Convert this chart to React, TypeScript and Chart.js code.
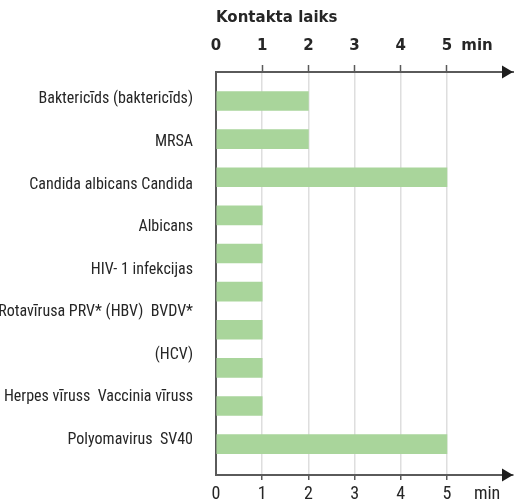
import React, { useEffect, useRef } from 'react';
import { Chart, registerables } from 'chart.js';

Chart.register(...registerables);

// ---- data ----
const barValues: number[] = [2, 2, 5, 1, 1, 1, 1, 1, 1, 5];
const categoryLabels: string[] = [
  'Baktericīds (baktericīds)',
  'MRSA',
  'Candida albicans Candida',
  'Albicans',
  'HIV- 1 infekcijas',
  'Rotavīrusa PRV* (HBV)  BVDV*',
  '(HCV)',
  'Herpes vīruss  Vaccinia vīruss',
  'Polyomavirus  SV40',
];
const xTickValues: number[] = [0, 1, 2, 3, 4, 5];
const unitLabel = 'min';
const axisTitle = 'Kontakta laiks';

// ---- layout constants (positions on the value scales) ----
const X_MAX = 6.43;
const Y_MIN = -0.76;
const Y_MAX = 9.81;
const LABEL_START = -0.04;
const LABEL_STEP = 1.116;
const TOP_UNIT_POS = 5.65;
const BOTTOM_UNIT_POS = 5.87;

const AXIS_COLOR = '#5a5a5a';
const GRID_COLOR = '#dedede';
const BAR_COLOR = '#a9d59b';
const TEXT_COLOR = '#262626';
const NARROW = "'Liberation Sans Narrow', 'Roboto Condensed', 'Open Sans Condensed', 'DejaVu Sans Condensed', sans-serif";
const BOLD = "'DejaVu Sans', sans-serif";

const isMainTick = (v: number) => Number.isInteger(v) && v >= 1 && v <= 5;

const arrowPlugin = {
  id: 'axisArrows',
  afterDraw(chart: any) {
    const { ctx, chartArea } = chart;
    const ys = [chart.scales.xTop.bottom, chart.scales.x.top];
    ctx.save();
    ctx.fillStyle = '#1e1e1e';
    ys.forEach((y: number) => {
      const tip = chartArea.right;
      ctx.beginPath();
      ctx.moveTo(tip, y);
      ctx.lineTo(tip - 11, y - 6.5);
      ctx.lineTo(tip - 11, y + 6.5);
      ctx.closePath();
      ctx.fill();
    });
    ctx.restore();
  },
};

export default function App() {
  const canvasRef = useRef<HTMLCanvasElement | null>(null);

  useEffect(() => {
    if (!canvasRef.current) return;
    const chart = new Chart(canvasRef.current, {
      type: 'bar',
      data: {
        datasets: [
          {
            data: barValues.map((v, i) => ({ x: v, y: i })) as any,
            backgroundColor: BAR_COLOR,
            borderWidth: 0,
            barThickness: 19,
            xAxisID: 'x',
            yAxisID: 'y',
          },
        ],
      },
      plugins: [arrowPlugin],
      options: {
        indexAxis: 'y',
        animation: false,
        responsive: true,
        maintainAspectRatio: false,
        layout: { padding: { left: 0, right: 10, top: 0, bottom: 0 } },
        plugins: { legend: { display: false }, tooltip: { enabled: false } },
        scales: {
          x: {
            type: 'linear',
            position: 'bottom',
            min: 0,
            max: X_MAX,
            offset: false,
            afterBuildTicks: (scale: any) => {
              scale.ticks = [...xTickValues, BOTTOM_UNIT_POS].map((v) => ({ value: v }));
            },
            afterFit: (scale: any) => {
              scale.height = 28;
            },
            ticks: {
              autoSkip: false,
              maxRotation: 0,
              padding: 4,
              color: TEXT_COLOR,
              font: { family: NARROW, size: 18 },
              callback: (_v: any, i: number) =>
                i < xTickValues.length ? String(xTickValues[i]) : unitLabel,
            },
            grid: {
              display: true,
              offset: false,
              drawOnChartArea: true,
              drawTicks: true,
              tickLength: 5,
              lineWidth: 1.5,
              color: (c: any) => (c.tick && isMainTick(c.tick.value) ? GRID_COLOR : 'rgba(0,0,0,0)'),
              tickColor: (c: any) => (c.tick && isMainTick(c.tick.value) ? AXIS_COLOR : 'rgba(0,0,0,0)'),
              tickWidth: 1.5,
            },
            border: { display: true, color: AXIS_COLOR, width: 2 },
          },
          xTop: {
            type: 'linear',
            position: 'top',
            min: 0,
            max: X_MAX,
            offset: false,
            afterBuildTicks: (scale: any) => {
              scale.ticks = [...xTickValues, TOP_UNIT_POS].map((v) => ({ value: v }));
            },
            afterFit: (scale: any) => {
              scale.height = 72;
            },
            title: {
              display: true,
              text: axisTitle,
              align: 'start',
              color: TEXT_COLOR,
              font: { family: BOLD, size: 15, weight: 'bold' },
              padding: { top: 9, bottom: 0 },
            },
            ticks: {
              autoSkip: false,
              maxRotation: 0,
              padding: 10,
              color: TEXT_COLOR,
              font: { family: BOLD, size: 15, weight: 'bold' },
              callback: (_v: any, i: number) =>
                i < xTickValues.length ? String(xTickValues[i]) : unitLabel,
            },
            grid: {
              display: true,
              offset: false,
              drawOnChartArea: false,
              drawTicks: true,
              tickLength: 7,
              tickWidth: 1.5,
              tickColor: (c: any) => (c.tick && isMainTick(c.tick.value) ? AXIS_COLOR : 'rgba(0,0,0,0)'),
            },
            border: { display: true, color: AXIS_COLOR, width: 2 },
          },
          y: {
            type: 'linear',
            display: false,
            offset: false,
            reverse: true,
            min: Y_MIN,
            max: Y_MAX,
          },
          yLabels: {
            type: 'linear',
            position: 'left',
            offset: false,
            reverse: true,
            min: Y_MIN,
            max: Y_MAX,
            afterBuildTicks: (scale: any) => {
              scale.ticks = categoryLabels.map((_, i) => ({ value: LABEL_START + i * LABEL_STEP }));
            },
            afterFit: (scale: any) => {
              scale.width = 216;
              scale.paddingTop = 0;
              scale.paddingBottom = 0;
            },
            ticks: {
              autoSkip: false,
              padding: 23,
              color: TEXT_COLOR,
              font: { family: NARROW, size: 16 },
              callback: (_v: any, i: number) => categoryLabels[i],
            },
            grid: { display: false, drawTicks: false, offset: false },
            border: { display: true, color: AXIS_COLOR, width: 2 },
          },
        },
      } as any,
    });
    return () => chart.destroy();
  }, []);

  return (
    <div style={{ position: 'fixed', left: 0, top: 0, width: 523, height: 503, background: '#fff' }}>
      <canvas ref={canvasRef} />
    </div>
  );
}
